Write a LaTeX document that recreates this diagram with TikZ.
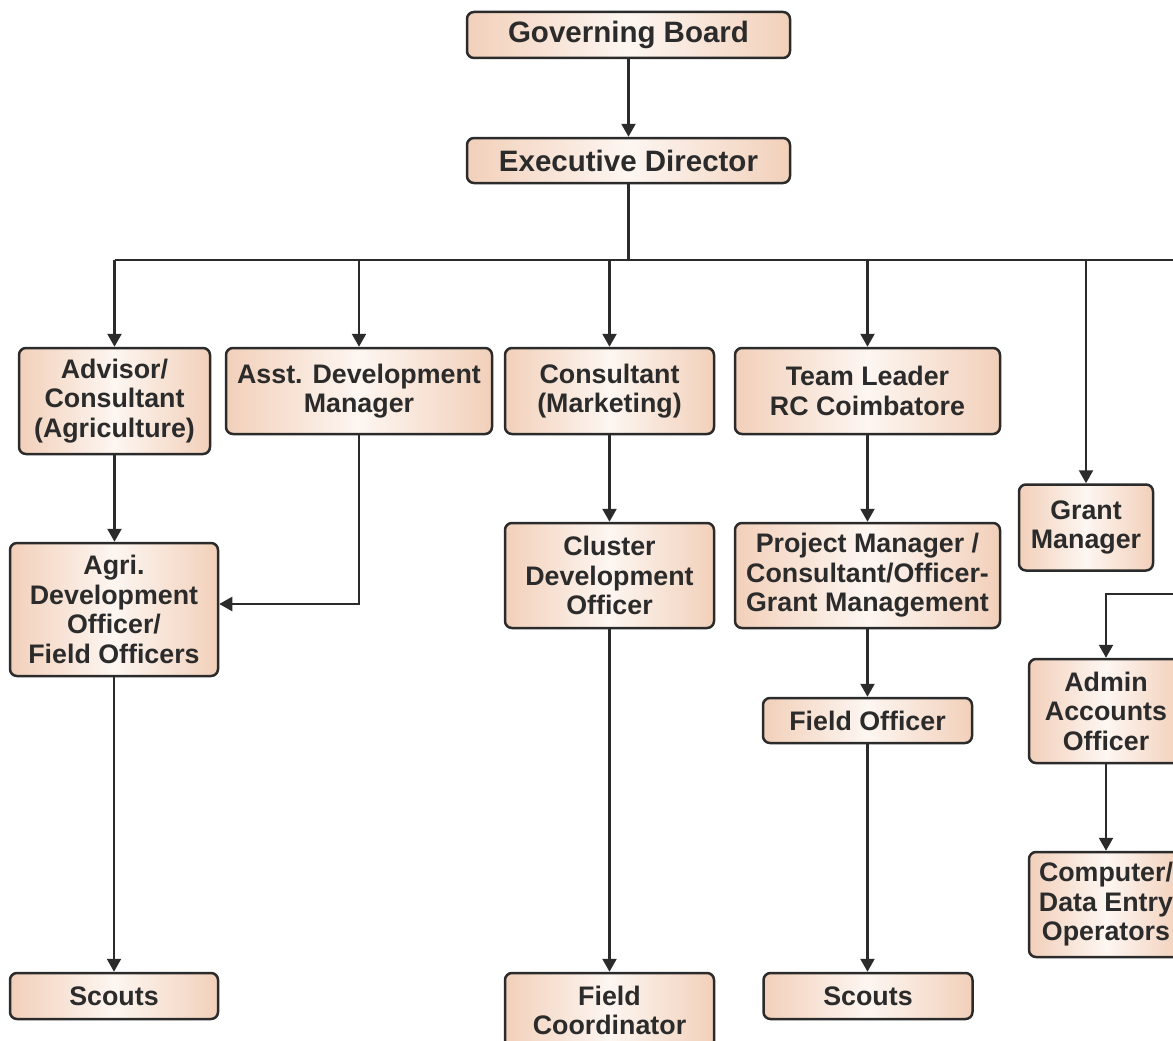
\documentclass[tikz,border=0pt]{standalone}
\usepackage{fontspec}
\setmainfont{Liberation Sans}
\usetikzlibrary{arrows.meta}
\definecolor{boxedge}{RGB}{242,208,186}
\definecolor{boxmid}{RGB}{253,246,241}
\definecolor{ink}{RGB}{43,43,43}
\tikzset{
  box/.style={draw=ink, line width=2.5pt, rounded corners=7pt,
    left color=boxedge, right color=boxedge, middle color=boxmid,
    text=ink, align=center, inner sep=0pt,
    font=\fontsize{26.8}{29.5}\selectfont\bfseries},
  topbox/.style={box, font=\fontsize{29.5}{32}\selectfont\bfseries},
  arr/.style={draw=ink, line width=2.3pt, -{Triangle[width=14pt,length=13pt]}},
  ln/.style={draw=ink, line width=2.3pt}
}
\begin{document}
\begin{tikzpicture}[x=1pt,y=-1pt]
\useasboundingbox (0,0) rectangle (1173,1041);
\clip (0,0) rectangle (1173,1041);
\fill[white] (0,0) rectangle (1173,1041);
\node[topbox, minimum width=323, minimum height=46] (gb) at (628.5,35) {Governing Board};
\node[topbox, minimum width=323, minimum height=45] (ed) at (628.5,160.5) {Executive Director};
\node[box, minimum width=191, minimum height=106] (adv) at (114.5,401) {Advisor/\\Consultant\\(Agriculture)};
\node[box, minimum width=266, minimum height=86] (asst) at (359,391) {Asst. Development\\Manager};
\node[box, minimum width=209, minimum height=86] (cmk) at (609.5,391) {Consultant\\(Marketing)};
\node[box, minimum width=265, minimum height=86] (tl) at (867.5,391) {Team Leader\\RC Coimbatore};
\node[box, minimum width=134, minimum height=86] (gm) at (1086,527.5) {Grant\\Manager};
\node[box, minimum width=208, minimum height=133] (agri) at (114,609.5) {Agri.\\Development\\Officer/\\Field Officers};
\node[box, minimum width=209, minimum height=105] (cdo) at (609.5,575.5) {Cluster\\Development\\Officer};
\node[box, minimum width=265, minimum height=105] (pm) at (867.5,575.5) {Project Manager /\\Consultant/Officer-\\Grant Management};
\node[box, minimum width=209, minimum height=45] (fo) at (867.5,720.5) {Field Officer};
\node[box, minimum width=154, minimum height=104] (aao) at (1106,711) {Admin\\Accounts\\Officer};
\node[box, minimum width=154, minimum height=105] (cde) at (1106,904.5) {Computer/\\Data Entry\\Operators};
\node[box, minimum width=208, minimum height=46] (sc1) at (114,996) {Scouts};
\node[box, minimum width=209, minimum height=75] (fc) at (609.5,1010.5) {Field\\Coordinator};
\node[box, minimum width=209, minimum height=46] (sc2) at (868,996) {Scouts};
\coordinate (bus) at (628.5,260);
\coordinate (busend) at (1180,260);
\coordinate (rin) at (1180,594);
\draw[arr] (gb.south) -- (ed.north);
\draw[ln] (ed.south) -- (bus);
\draw[ln] (adv.north |- bus) -- (busend);
\draw[arr] (adv.north |- bus) -- (adv.north);
\draw[arr] (asst.north |- bus) -- (asst.north);
\draw[arr] (cmk.north |- bus) -- (cmk.north);
\draw[arr] (tl.north |- bus) -- (tl.north);
\draw[arr] (gm.north |- bus) -- (gm.north);
\draw[arr] (adv.south) -- (adv.south |- agri.north);
\draw[arr] (asst.south) -- (asst.south |- 0,604) -- (agri.east |- 0,604);
\draw[arr] (agri.south) -- (agri.south |- sc1.north);
\draw[arr] (cmk.south) -- (cdo.north);
\draw[arr] (cdo.south) -- (fc.north);
\draw[arr] (tl.south) -- (pm.north);
\draw[arr] (pm.south) -- (fo.north);
\draw[arr] (fo.south) -- (fo.south |- sc2.north);
\draw[arr] (rin) -| (aao.north);
\draw[arr] (aao.south) -- (cde.north);
\end{tikzpicture}
\end{document}
